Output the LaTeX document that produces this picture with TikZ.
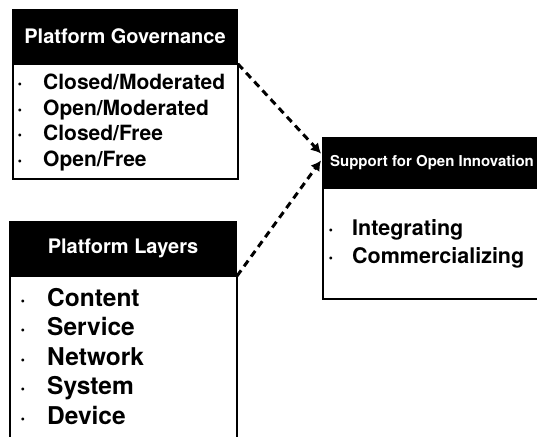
\documentclass[tikz,border=0pt]{standalone}
\usepackage{fontspec}
\setmainfont{TeX Gyre Heros}
\usetikzlibrary{arrows.meta}
\begin{document}
\begin{tikzpicture}[x=1pt,y=-1pt,
  hdr/.style={draw=black, fill=black, line width=1pt, text=white, inner sep=0pt, font=\bfseries\fontsize{20}{24}\selectfont, anchor=north west},
  bod/.style={draw=black, line width=1.5pt, fill=white, inner sep=0pt, anchor=north west},
  itg/.style={anchor=base west, inner sep=0pt, font=\bfseries\fontsize{21}{25}\selectfont},
  itl/.style={anchor=base west, inner sep=0pt, font=\bfseries\fontsize{24.5}{29}\selectfont},
  its/.style={anchor=base west, inner sep=0pt, font=\bfseries\fontsize{21.5}{26}\selectfont},
  bul/.style={anchor=base, inner sep=0pt, font=\bfseries\fontsize{20}{24}\selectfont},
  conn/.style={line width=3pt, dash pattern=on 7pt off 5pt, -{Latex[length=10pt,width=11pt]}}
]
\useasboundingbox (0,0) rectangle (537,436);
\clip (0,0) rectangle (537,436);
\fill[white] (0,0) rectangle (537,436);

% Platform Governance
\node[bod, minimum width=225pt, minimum height=115pt] (govb) at (12,63) {};
\node[hdr, minimum width=225pt, minimum height=54pt] (govh) at (12,9) {Platform Governance};
\node[bul] (gb1) at (20,89.5) {·};
\node[bul] (gb2) at (20,115) {·};
\node[bul] (gb3) at (20,140.5) {·};
\node[bul] (gb4) at (20,166) {·};
\node[itg] (g1) at (43,89.5) {Closed/Moderated};
\node[itg] (g2) at (43,115) {Open/Moderated};
\node[itg] (g3) at (43,140.5) {Closed/Free};
\node[itg] (g4) at (43,166) {Open/Free};

% Platform Layers
\node[bod, minimum width=227pt, minimum height=180pt] (layb) at (9,275) {};
\node[hdr, minimum width=227pt, minimum height=54pt] (layh) at (9,221) {Platform Layers};
\node[bul] (lb1) at (23,306) {·};
\node[bul] (lb2) at (23,335.5) {·};
\node[bul] (lb3) at (23,365) {·};
\node[bul] (lb4) at (23,394.5) {·};
\node[bul] (lb5) at (23,424) {·};
\node[itl] (l1) at (47,306) {Content};
\node[itl] (l2) at (47,335.5) {Service};
\node[itl] (l3) at (47,365) {Network};
\node[itl] (l4) at (47,394.5) {System};
\node[itl] (l5) at (47,424) {Device};

% Support for Open Innovation
\node[bod, minimum width=219pt, minimum height=111pt] (supb) at (322,187) {};
\node[hdr, minimum width=219pt, minimum height=50pt, font=\bfseries\fontsize{15}{18}\selectfont] (suph) at (322,137) {Support for Open Innovation};
\node[bul] (sb1) at (331,235) {·};
\node[bul] (sb2) at (331,263) {·};
\node[its] (s1) at (352,235) {Integrating};
\node[its] (s2) at (352,263) {Commercializing};

% connectors
\draw[conn] (govh.south east) -- ([yshift=9pt,xshift=-1pt]suph.west);
\draw[conn] (layh.south east) -- ([yshift=2pt,xshift=-1pt]suph.west);
\end{tikzpicture}
\end{document}
